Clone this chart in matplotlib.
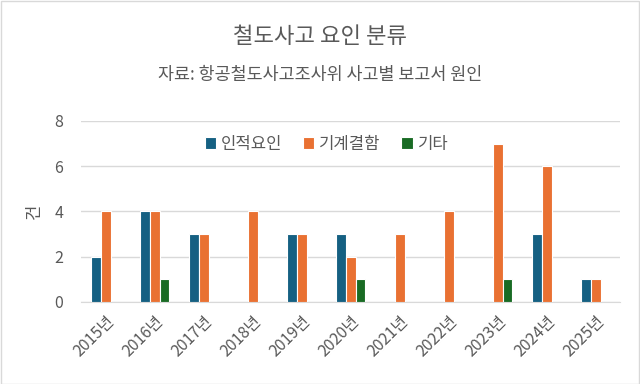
import numpy as np
import matplotlib
matplotlib.use("Agg")
import matplotlib.pyplot as plt
from matplotlib.patches import Rectangle

plt.rcParams['font.family'] = ['Noto Sans CJK KR', 'DejaVu Sans']

years = ["2015년", "2016년", "2017년", "2018년", "2019년", "2020년",
         "2021년", "2022년", "2023년", "2024년", "2025년"]
human = [2, 4, 3, 0, 3, 3, 0, 0, 0, 3, 1]
mechanical = [4, 4, 3, 4, 3, 2, 3, 4, 7, 6, 1]
other = [0, 1, 0, 0, 0, 1, 0, 0, 1, 0, 0]
series_names = ["인적요인", "기계결함", "기타"]
colors = ["#156082", "#E97132", "#196B24"]
text_color = "#595959"

fig = plt.figure(figsize=(6.4, 3.84), dpi=100)
ax = fig.add_axes([0.127, 0.214, 0.842, 0.471])

x = np.arange(len(years))
w = 0.2
for i, (vals, name, c) in enumerate(zip([human, mechanical, other], series_names, colors)):
    ax.bar(x + (i - 1) * w, vals, w, color=c, edgecolor="white", linewidth=0.8,
           label=name, zorder=3)

ax.set_xlim(-0.5, len(years) - 0.5)
ax.set_ylim(0, 8)
ax.set_yticks([0, 2, 4, 6, 8])
ax.yaxis.grid(True, color="#d9d9d9", linewidth=1, zorder=0)
for s in ["top", "right", "left"]:
    ax.spines[s].set_visible(False)
ax.spines["bottom"].set_color("#d9d9d9")
ax.tick_params(axis="both", length=0, colors=text_color, labelsize=11.5)
ax.tick_params(axis="y", pad=13)
ax.tick_params(axis="x", pad=8)
ax.set_xticks(x)
ax.set_xticklabels(years, rotation=45, ha="right", rotation_mode="anchor")
ax.set_ylabel("건", color=text_color, fontsize=12, labelpad=8)

leg = ax.legend(loc="upper center", bbox_to_anchor=(0.455, 1.0), ncol=3, frameon=False,
                fontsize=12, handlelength=0.7, handleheight=0.7, handletextpad=0.3,
                columnspacing=1.2)
for t in leg.get_texts():
    t.set_color(text_color)

fig.text(0.5, 0.905, "철도사고 요인 분류", ha="center", va="center", fontsize=16, color=text_color)
fig.text(0.5, 0.805, "자료: 항공철도사고조사위 사고별 보고서 원인", ha="center", va="center",
         fontsize=12.5, color=text_color)

fig.patches.append(Rectangle((0.001, 0.001), 0.997, 0.997, transform=fig.transFigure,
                             fill=False, edgecolor="#d9d9d9", linewidth=1))

fig.savefig("out.png", dpi=100)
